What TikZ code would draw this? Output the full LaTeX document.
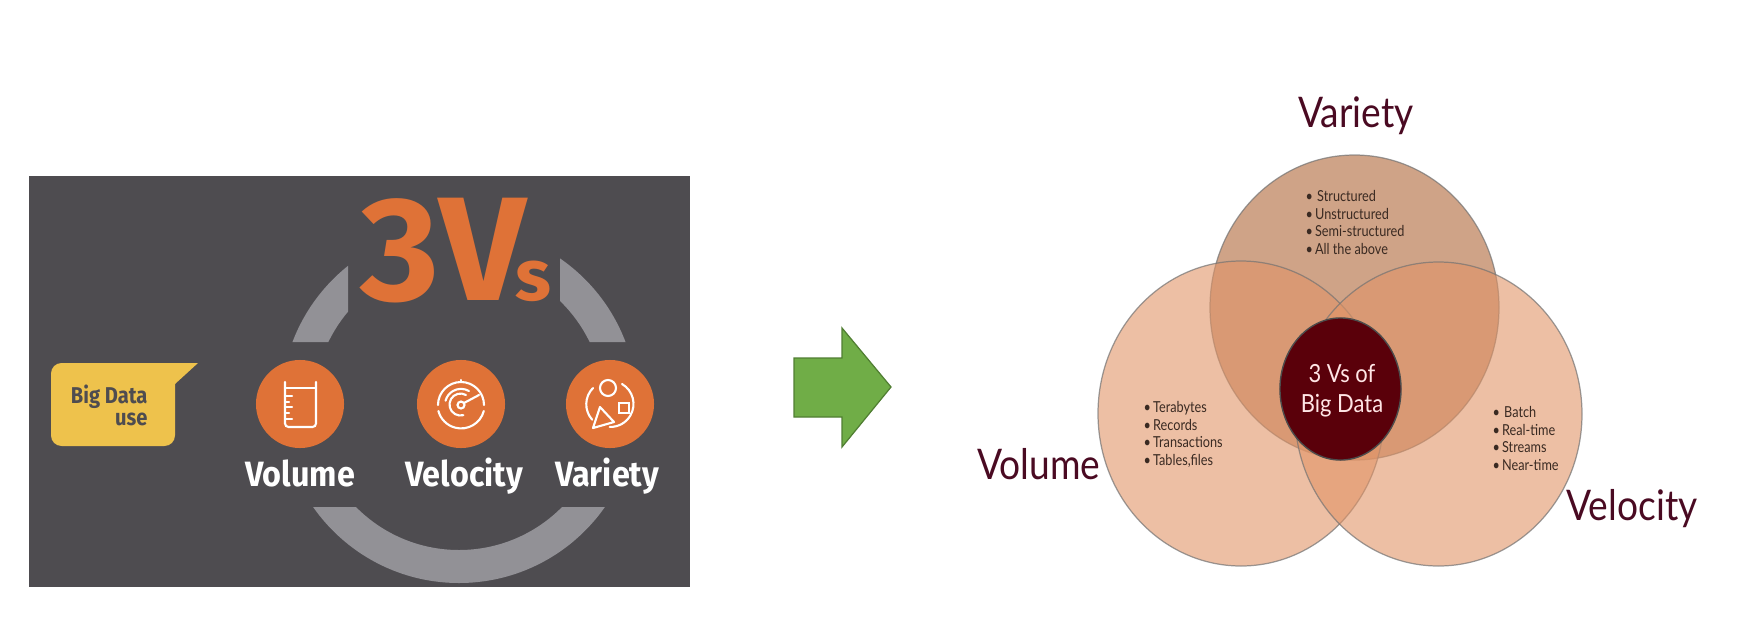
\documentclass[tikz,border=0pt]{standalone}
\usepackage{fontspec}
\usetikzlibrary{shapes.geometric}
\setmainfont{Lato}
\newfontfamily\firafont{Fira Sans}
\definecolor{panelgray}{HTML}{4E4C50}
\definecolor{ringgray}{HTML}{929196}
\definecolor{vorange}{HTML}{DF7237}
\definecolor{noteyellow}{HTML}{EEC24C}
\definecolor{vennbase}{HTML}{E19467}
\definecolor{venntop}{HTML}{9F470F}
\definecolor{maroon}{HTML}{4A0A22}
\definecolor{coredark}{HTML}{5A000A}
\definecolor{listink}{HTML}{3A2A22}
\definecolor{arrowfill}{HTML}{70AD47}
\definecolor{arrowedge}{HTML}{507E32}
\tikzset{
    iconline/.style={white, line width=0.6pt, line cap=round},
    vcircle/.style={circle, fill=vorange, minimum size=0.88cm, inner sep=0pt},
    vlabel/.style={white, font=\firafont\bfseries\fontsize{10}{12}\selectfont, xscale=0.92, transform shape, anchor=base},
    vennedge/.style={draw=black!55, line width=0.35pt, draw opacity=0.7},
    bigname/.style={maroon, font=\fontsize{12}{14}\selectfont, xscale=0.88, transform shape, anchor=base},
    listtext/.style={listink, font=\fontsize{4.3}{4.95}\selectfont, align=left, anchor=base west, inner sep=0pt, xscale=0.84, transform shape}
}
\begin{document}
\begin{tikzpicture}[x=0.01cm, y=0.01cm]
    \useasboundingbox (0,0) rectangle (1751,-639);
    \fill[panelgray] (29,-176) rectangle (690,-587);

    % Broken ring behind the title
    \begin{scope}
        \clip (200,-342) rectangle (348,-200) (560,-200) rectangle (700,-342) (250,-507) rectangle (680,-587);
        \fill[ringgray, even odd rule] (459,-405) circle[radius=178] (459,-405) circle[radius=145];
    \end{scope}

    % Title
    \node[vorange, font=\firafont\bfseries\fontsize{42}{50}\selectfont, xscale=1.03, transform shape, anchor=base west, inner sep=0pt] (title) at (360,-300) {3V\kern-3pt\fontsize{20.5}{28}\selectfont s};

    % Callout
    \fill[noteyellow, rounded corners=3pt] (51,-363) -- (175,-363) -- (175,-446) -- (51,-446) -- cycle;
    \fill[noteyellow] (140,-363) -- (198,-363) -- (175,-384) -- (140,-384) -- cycle;
    \node[panelgray, font=\firafont\bfseries\fontsize{6.5}{6.2}\selectfont, align=right, xscale=0.88, transform shape, anchor=base east, inner sep=0pt] (usenote) at (148,-425) {Big Data\\use};

    % Three round icons
    \node[vcircle] (volcirc) at (300,-404) {};
    \node[vcircle] (velcirc) at (461,-404) {};
    \node[vcircle] (varcirc) at (610,-404) {};
    \node[vlabel] (vollabel) at (300,-486) {Volume};
    \node[vlabel] (vellabel) at (464,-486) {Velocity};
    \node[vlabel] (varlabel) at (607,-486) {Variety};

    % Beaker
    \begin{scope}[shift={(volcirc)}]
        \draw[iconline, rounded corners=1pt] (-15,22) -- (-15,-23) -- (16,-23) -- (16,22);
        \draw[iconline] (-15,16) -- (16,16);
        \foreach \ytick/\xtick in {8/-8, 2/-11, -3/-8, -9/-11, -15/-8}
            \draw[iconline] (-15,\ytick) -- (\xtick,\ytick);
    \end{scope}

    % Radar
    \begin{scope}[shift={(velcirc)}, yshift=-0.01cm]
        \draw[iconline] (23,0) arc[start angle=0, end angle=180, radius=23];
        \draw[iconline] (22.8,-6) arc[start angle=-15, end angle=-165, radius=23.5];
        \draw[iconline] (0,23) -- (0,25);
        \draw[iconline] (8,14) arc[start angle=60, end angle=165, radius=16];
        \draw[iconline] (5,10) arc[start angle=60, end angle=285, radius=11];
        \draw[iconline] (0,0) circle[radius=3.5];
        \draw[iconline] (3,2) -- (18,10);
    \end{scope}

    % Person and shapes
    \begin{scope}[shift={(varcirc)}]
        \draw[iconline] (-2,16) circle[radius=8];
        \draw[iconline] (9,-9) rectangle (19,1);
        \draw[iconline, line join=round] (-10,-3) -- (-17,-24) -- (4,-18) -- cycle;
        \draw[iconline] (-17,16) arc[start angle=135, end angle=222, radius=23];
        \draw[iconline] (12,20) arc[start angle=60, end angle=-92, radius=23];
    \end{scope}

    % Block arrow
    \draw[fill=arrowfill, draw=arrowedge, line width=0.35pt] (794,-358) -- (842,-358) -- (842,-328) -- (891,-387) -- (842,-447) -- (842,-417) -- (794,-417) -- cycle;

    % Venn
    \path[fill=venntop, fill opacity=0.5, vennedge] (1354.5,-307.5) ellipse[x radius=144.5, y radius=152.5];
    \path[fill=vennbase, fill opacity=0.6, vennedge] (1241,-413.5) ellipse[x radius=143, y radius=152.5];
    \path[fill=vennbase, fill opacity=0.6, vennedge] (1438.5,-414) ellipse[x radius=143.5, y radius=152];
    \node[ellipse, fill=coredark, draw=black!70, line width=0.4pt, minimum width=1.21cm, minimum height=1.42cm, inner sep=0pt] (core) at (1340.5,-389) {};
    \node[white!90!red, align=center, font=\fontsize{7.1}{8.25}\selectfont, xscale=0.88, transform shape, inner sep=0pt, anchor=base] (coretext) at (1342,-412) {3 Vs of\\Big Data};

    \node[bigname] (varname) at (1356,-127) {Variety};
    \node[bigname] (volname) at (1039,-479) {Volume};
    \node[bigname] (velname) at (1632,-520) {Velocity};

    \node[listtext] (varlist) at (1305,-254) {•\,\,Structured\\•\,Unstructured\\•\,Semi-structured\\•\,All the above};
    \node[listtext] (vollist) at (1143,-465) {•\,Terabytes\\•\,Records\\•\,Transactions\\•\,Tables,files};
    \node[listtext] (vellist) at (1492,-470) {•\,\,Batch\\•\,Real-time\\•\,Streams\\•\,Near-time};
\end{tikzpicture}
\end{document}
